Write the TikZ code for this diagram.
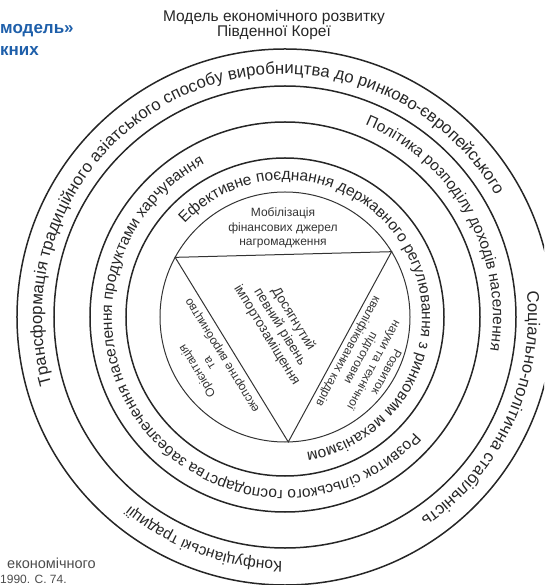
\documentclass[tikz,border=0pt]{standalone}
\usepackage{fontspec}
\setmainfont{Liberation Sans}
\usetikzlibrary{decorations.text}

\definecolor{pageblue}{RGB}{30,95,170}
\newcommand{\ringfont}{\fontsize{15.5}{17}\selectfont}
\newcommand{\bigringfont}{\fontsize{16.8}{18}\selectfont}

\begin{document}
\begin{tikzpicture}[x=1pt,y=1pt]

\tikzset{
  % the five circles of the model
  ring/.style={draw=black!85, line width=1.5pt},
  core/.style={draw=black!80, line width=1pt},
  % text written clockwise along a circle
  ring text/.style={decorate, decoration={text along path, text align=center,
      text={|\ringfont\color{black!85}|#1}}},
  big ring text/.style={decorate, decoration={text along path, text align=center,
      text={|\bigringfont\color{black!85}|#1}}},
  core text/.style={font=\fontsize{12}{14.5}\selectfont, text=black!80,
    align=center, inner sep=0pt},
}

\clip (-285,-268) rectangle (259,317);
\coordinate (O) at (0,0);

\foreach \r in {268,231,195,159}
  \draw[ring] (O) circle (\r);
\draw[core] (O) circle (125);

% triangle inside the core
\coordinate (tr) at (31.5:125);
\coordinate (tl) at (151.5:125);
\coordinate (bt) at (-88.5:125);
\draw[core] (tr) -- (tl) -- (bt) -- cycle;

\node[font=\ringfont, text=black!85, align=center] (title) at (-11,292)
  {Модель економічного розвитку\\[-2pt]Південної Кореї};

% outer ring
\path[big ring text={Трансформація традиційного азіатського способу виробництва до ринково-європейського}]
  (O) ++(213:243) arc (213:13:243);
\path[big ring text={Соціально-політична стабільність}]
  (O) ++(20:243) arc (20:-70:243);
\path[ring text={Конфуціанські традиції}]
  (O) ++(-80:244) arc (-80:-140:244);

% second ring
\path[ring text={Політика розподілу доходів населення}]
  (O) ++(75:208) arc (75:-17:208);

% third ring
\path[ring text={Розвиток сільського господарства забезпечення населення продуктами харчування}]
  (O) ++(-20:173) arc (-20:-264:173);

% fourth ring
\path[ring text={Ефективне поєднання державного регулювання з ринковим механізмом}]
  (O) ++(153:137) arc (153:-97:137);

% core
\node[core text] (mobil) at (-2,89)
  {Мобілізація\\фінансових джерел\\нагромадження};
\node[core text, rotate=-118.5] (nauka) at (-28.5:93)
  {Розвиток\\науки та технічної\\підготовки\\кваліфікованих кадрів};
\node[core text, rotate=121.5] (eksport) at (211.5:88)
  {Орієнтація\\та\\експортне виробництво};
\node[core text, font=\fontsize{13.5}{15.5}\selectfont, rotate=-58.5] (import) at (-5,-10)
  {Досягнутий\\певний рівень\\імпортозаміщення};

% cut parts of the page
\node[anchor=west, inner sep=0pt, font=\bfseries\fontsize{17}{19}\selectfont, text=pageblue] (frag1) at (-285,286) {модель»};
\node[anchor=west, inner sep=0pt, font=\bfseries\fontsize{17}{19}\selectfont, text=pageblue] (frag2) at (-285,266) {кних};
\node[anchor=west, inner sep=0pt, font=\fontsize{14.5}{16}\selectfont, text=black!70] (frag3) at (-278,-246) {економічного};
\node[anchor=west, inner sep=0pt, font=\fontsize{12}{14}\selectfont, text=black!70] (frag4) at (-285,-262) {1990. С. 74.};

\end{tikzpicture}
\end{document}
